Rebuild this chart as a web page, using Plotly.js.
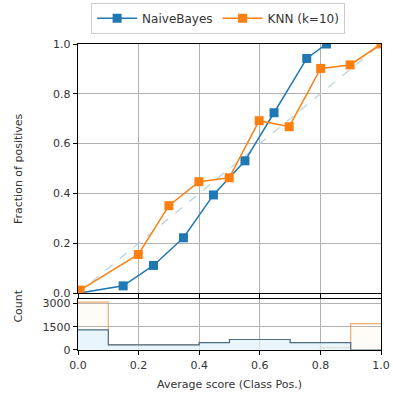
<!DOCTYPE html>
<html><head><meta charset="utf-8">
<script src="https://cdn.plot.ly/plotly-3.0.1.min.js"></script>
<style>html,body{margin:0;padding:0;background:#fff}#c{width:393px;height:393px}</style>
</head><body><div id="c"></div>
<script>
// Calibration curve data
const nbScore = [0.005, 0.149, 0.249, 0.348, 0.447, 0.551, 0.647, 0.755, 0.82];
const nbFrac  = [0.0, 0.029, 0.111, 0.222, 0.394, 0.531, 0.724, 0.942, 1.0];
const knnScore = [0.007, 0.199, 0.300, 0.399, 0.499, 0.598, 0.697, 0.801, 0.898, 1.0];
const knnFrac  = [0.012, 0.155, 0.351, 0.447, 0.463, 0.692, 0.668, 0.902, 0.916, 1.0];
// Histogram data (bin edges, counts)
const binEdges = [0.0, 0.1, 0.2, 0.3, 0.4, 0.5, 0.6, 0.7, 0.8, 0.9, 1.0];
const nbCounts  = [1300, 330, 330, 330, 480, 680, 680, 480, 480, 0];
const knnCounts = [3100, 330, 330, 330, 480, 680, 680, 480, 150, 1700];
const seriesNames = ["NaiveBayes", "KNN (k=10)"];
const xTicks = [0.0, 0.2, 0.4, 0.6, 0.8, 1.0];

const blue = "#1f77b4", orange = "#ff7f0e";
function stepY(counts){ return counts.concat([counts[counts.length-1]]); }

const traces = [
  {x:[0,1], y:[0,1], mode:"lines", line:{color:"#b8cfe0", dash:"dash", width:1.2}, showlegend:false, hoverinfo:"skip", xaxis:"x", yaxis:"y"},
  {x:binEdges, y:stepY(knnCounts), mode:"lines", line:{shape:"hv", color:"rgba(230,140,60,0.7)", width:1.2}, fill:"tozeroy", fillcolor:"rgba(255,220,190,0.12)", showlegend:false, xaxis:"x2", yaxis:"y2"},
  {x:binEdges, y:stepY(nbCounts), mode:"lines", line:{shape:"hv", color:"#4a6f85", width:1.2}, fill:"tozeroy", fillcolor:"rgba(222,243,252,0.7)", showlegend:false, xaxis:"x2", yaxis:"y2"},
  {x:nbScore, y:nbFrac, name:seriesNames[0], mode:"lines+markers", line:{color:blue, width:1.5}, marker:{symbol:"square", size:9, color:blue}, xaxis:"x", yaxis:"y"},
  {x:knnScore, y:knnFrac, name:seriesNames[1], mode:"lines+markers", line:{color:orange, width:1.5}, marker:{symbol:"square", size:9, color:orange}, xaxis:"x", yaxis:"y"}
];

const axBase = {showline:true, mirror:true, linecolor:"#000", linewidth:1.3, ticks:"outside", ticklen:4, tickcolor:"#000",
  showgrid:true, gridcolor:"#b0b0b0", gridwidth:1, zeroline:false, tickfont:{family:"DejaVu Sans", size:11, color:"#333"}};

const layout = {
  width:393, height:393, paper_bgcolor:"#fff", plot_bgcolor:"#fff",
  margin:{l:78, r:12, t:44, b:43},
  font:{family:"DejaVu Sans", size:11, color:"#333"},
  showlegend:true,
  legend:{orientation:"h", x:0.555, xanchor:"center", xref:"container", y:0.993, yanchor:"top", yref:"container", itemwidth:40,
    bordercolor:"#ccc", borderwidth:1, bgcolor:"#fff", font:{family:"DejaVu Sans", size:12, color:"#333"}},
  xaxis: Object.assign({}, axBase, {domain:[0,1], range:[0,1], tickvals:xTicks, showticklabels:false, anchor:"y"}),
  yaxis: Object.assign({}, axBase, {domain:[0.186,1], range:[0,1], tickvals:[0,0.2,0.4,0.6,0.8,1.0], ticktext:["0.0","0.2","0.4","0.6","0.8","1.0"], anchor:"x"}),
  xaxis2: Object.assign({}, axBase, {domain:[0,1], range:[0,1], tickvals:xTicks, ticktext:["0.0","0.2","0.4","0.6","0.8","1.0"], anchor:"y2",
     title:{text:"Average score (Class Pos.)", font:{family:"DejaVu Sans", size:11, color:"#333"}, standoff:9}}),
  yaxis2: Object.assign({}, axBase, {domain:[0,0.1667], range:[0,3300], tickvals:[0,1500,3000], ticktext:["0","1500","3000"], anchor:"x2"}),
  annotations:[
    {text:"Fraction of positives", textangle:-90, xref:"paper", yref:"paper", x:0, xshift:-68, y:0.593, showarrow:false, font:{family:"DejaVu Sans", size:11, color:"#333"}},
    {text:"Count", textangle:-90, xref:"paper", yref:"paper", x:0, xshift:-68, y:0.083, showarrow:false, font:{family:"DejaVu Sans", size:11, color:"#333"}}
  ]
};
Plotly.newPlot("c", traces, layout, {displayModeBar:false, staticPlot:true});
</script></body></html>
